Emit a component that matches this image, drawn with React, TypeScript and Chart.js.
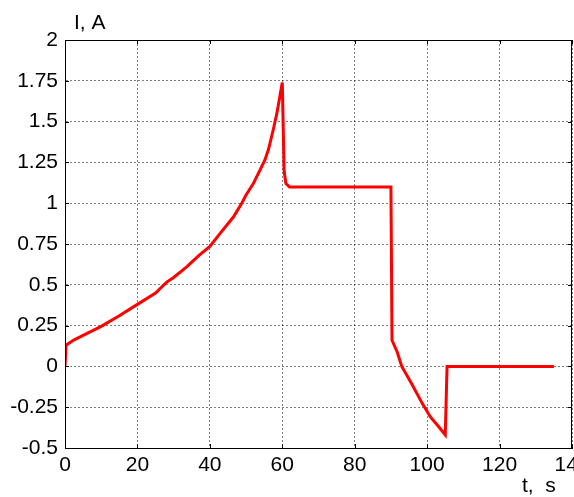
import React, { useEffect, useRef } from "react";
import { Chart, registerables } from "chart.js";

Chart.register(...registerables);

const timeS = [0, 0.3, 2.3, 5, 10, 15, 20, 25, 28, 30, 33.6, 37, 40, 43, 46.5, 48.8, 50, 52, 54, 55.2, 56.2, 57.5, 58.5, 59.3, 60, 60.5, 61, 62, 90, 90.3, 91.7, 93, 95.8, 98.6, 100.9, 103.2, 105, 105.5, 135];
const currentA = [0, 0.13, 0.16, 0.19, 0.245, 0.31, 0.38, 0.45, 0.515, 0.545, 0.61, 0.68, 0.735, 0.82, 0.915, 1.0, 1.05, 1.12, 1.21, 1.265, 1.33, 1.45, 1.55, 1.65, 1.74, 1.2, 1.12, 1.1, 1.1, 0.16, 0.09, 0.0, -0.11, -0.225, -0.31, -0.37, -0.42, 0, 0];

const xTicks = [0, 20, 40, 60, 80, 100, 120, 140];
const yTicks = [2, 1.75, 1.5, 1.25, 1, 0.75, 0.5, 0.25, 0, -0.25, -0.5];
const yTitle = "I, A";
const xTitle = "t,  s";

const FONT = "'Liberation Sans', Arial, sans-serif";

const framePlugin = {
  id: "frame",
  afterDraw(chart: any) {
    const { ctx, chartArea } = chart;
    const { left, right, top, bottom } = chartArea;
    const xs = chart.scales.x;
    const ys = chart.scales.y;
    ctx.save();
    ctx.strokeStyle = "#000";
    ctx.lineWidth = 1;
    ctx.strokeRect(left + 0.5, top + 0.5, right - left - 1, bottom - top);
    const tl = 4;
    ctx.beginPath();
    xs.ticks.forEach((t: any) => {
      const px = Math.round(xs.getPixelForValue(t.value)) + 0.5;
      ctx.moveTo(px, bottom);
      ctx.lineTo(px, bottom - tl);
      ctx.moveTo(px, top);
      ctx.lineTo(px, top + tl);
    });
    ys.ticks.forEach((t: any) => {
      const py = Math.round(ys.getPixelForValue(t.value)) + 0.5;
      ctx.moveTo(left, py);
      ctx.lineTo(left + tl, py);
      ctx.moveTo(right, py);
      ctx.lineTo(right - tl, py);
    });
    ctx.stroke();
    ctx.fillStyle = "#000";
    ctx.font = `21px ${FONT}`;
    ctx.textAlign = "left";
    ctx.textBaseline = "alphabetic";
    ctx.fillText(yTitle, left + 9, 29);
    ctx.fillText(xTitle, 522, 492);
    ctx.restore();
  },
};

export default function App() {
  const ref = useRef<HTMLCanvasElement>(null);
  useEffect(() => {
    if (!ref.current) return;
    const data = timeS.map((t, i) => ({ x: t, y: currentA[i] }));
    const chart = new Chart(ref.current, {
      type: "line",
      data: {
        datasets: [
          {
            data,
            borderColor: "#ff0000",
            borderWidth: 3,
            pointRadius: 0,
            tension: 0,
            fill: false,
          },
        ],
      },
      options: {
        animation: false,
        responsive: true,
        maintainAspectRatio: false,
        layout: { padding: { top: 40, right: 2, left: 0, bottom: 0 } },
        plugins: { legend: { display: false }, tooltip: { enabled: false } },
        scales: {
          x: {
            type: "linear",
            min: 0,
            max: 140,
            afterBuildTicks: (s: any) => {
              s.ticks = xTicks.map((v) => ({ value: v }));
            },
            afterFit: (s: any) => {
              s.height = 49;
              s.paddingLeft = 0;
              s.paddingRight = 0;
            },
            ticks: {
              autoSkip: false,
              maxRotation: 0,
              color: "#000",
              padding: 5,
              font: { family: FONT, size: 21 },
              callback: (v: any) => String(v),
            },
            grid: {
              color: "rgba(0,0,0,0.5)",
              lineWidth: 1,
              drawTicks: false,
            },
            border: { display: true, color: "#000", width: 1, dash: [2, 2] } as any,
          },
          y: {
            type: "linear",
            min: -0.5,
            max: 2,
            afterBuildTicks: (s: any) => {
              s.ticks = yTicks.map((v) => ({ value: v }));
            },
            afterFit: (s: any) => {
              s.width = 65;
              s.paddingTop = 0;
              s.paddingBottom = 0;
            },
            ticks: {
              autoSkip: false,
              color: "#000",
              padding: 7,
              font: { family: FONT, size: 21 },
              callback: (v: any) => String(v),
            },
            grid: {
              color: "rgba(0,0,0,0.5)",
              lineWidth: 1,
              drawTicks: false,
            },
            border: { display: true, color: "#000", width: 1, dash: [2, 2] } as any,
          },
        },
      } as any,
      plugins: [framePlugin],
    });
    return () => chart.destroy();
  }, []);
  return (
    <div style={{ position: "absolute", left: 0, top: 0, width: 574, height: 497, background: "#fff" }}>
      <canvas ref={ref} />
    </div>
  );
}
